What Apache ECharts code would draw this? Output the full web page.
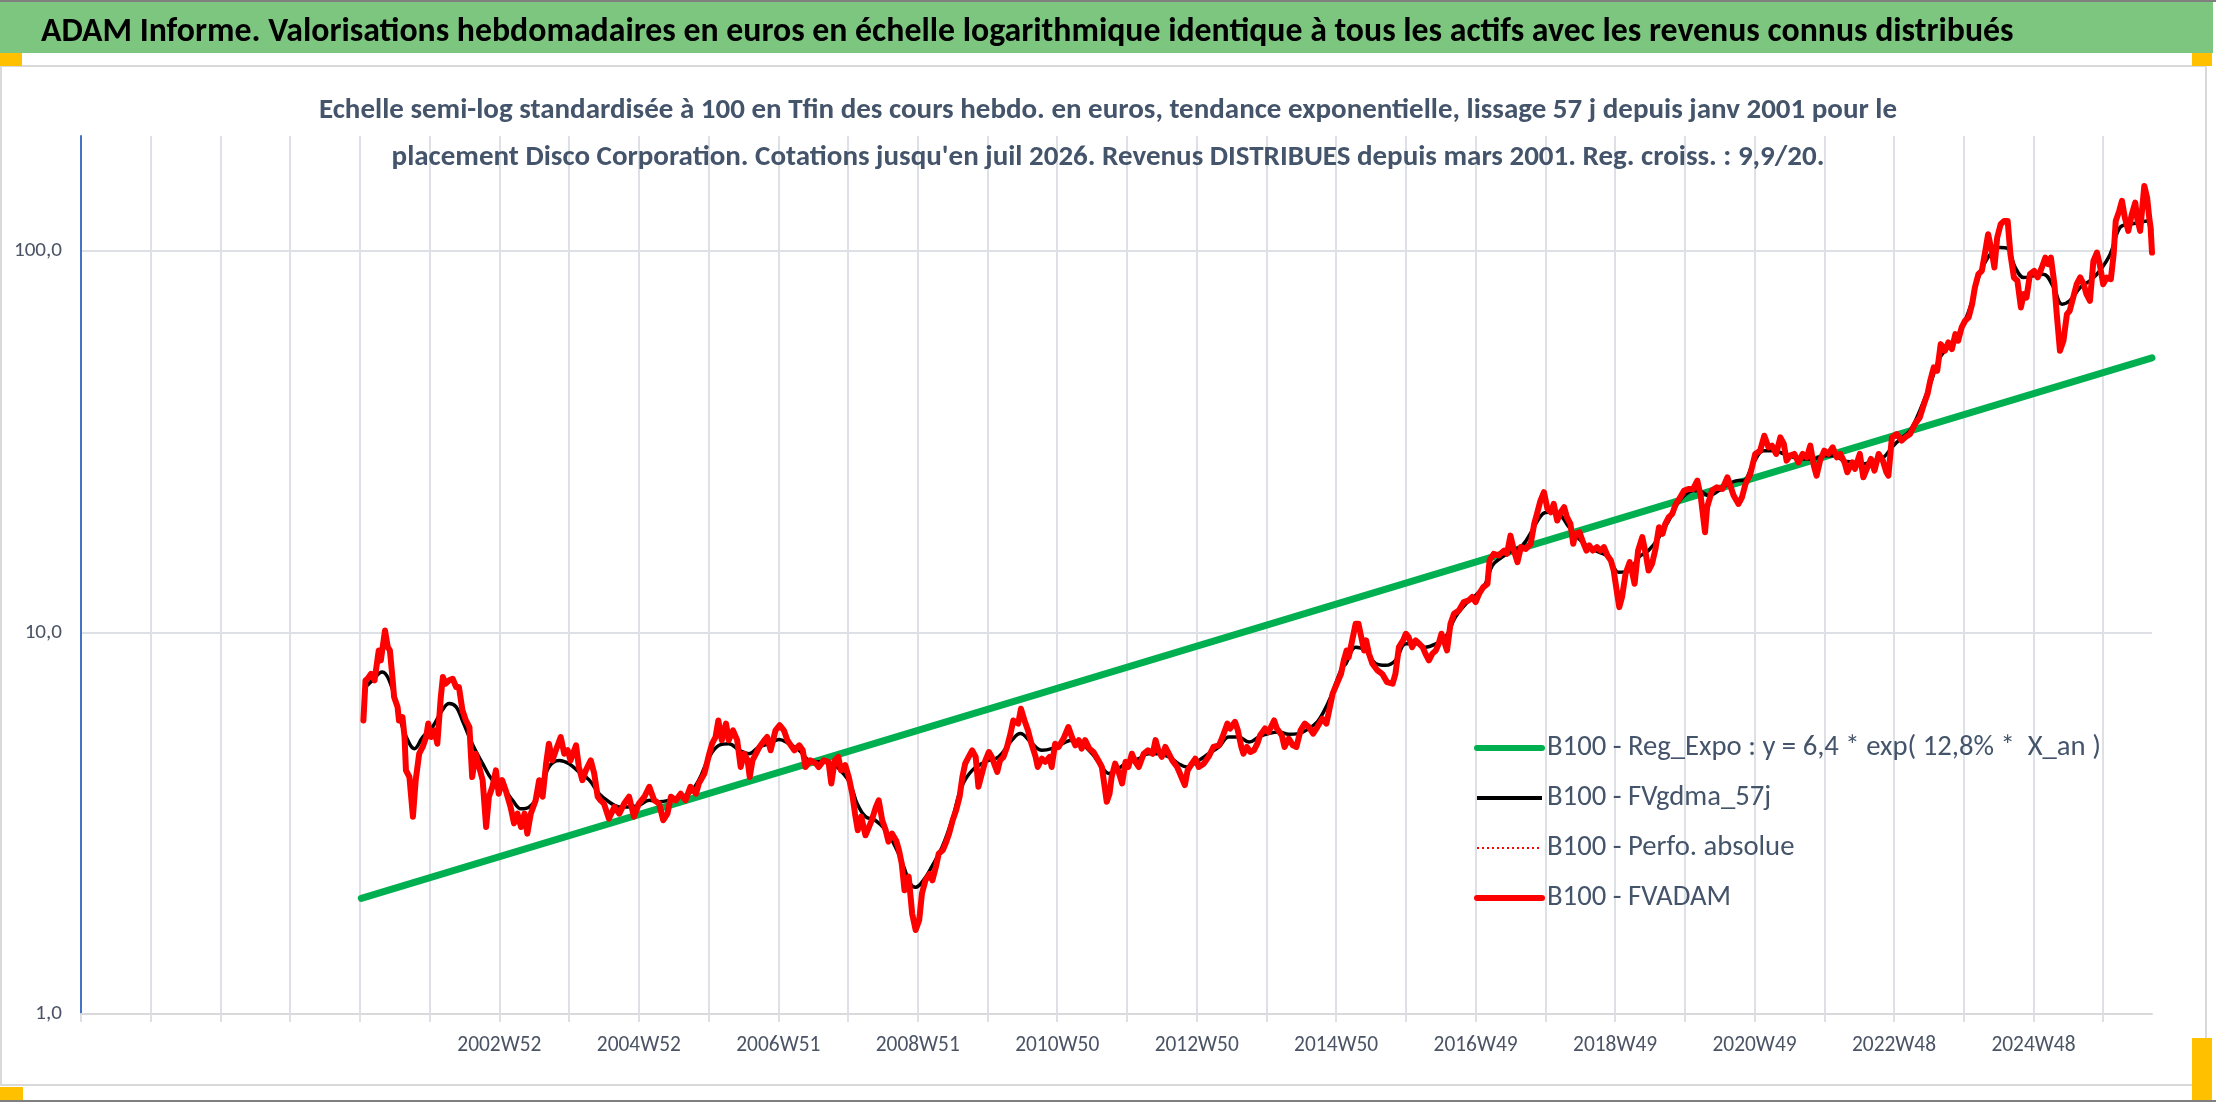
<!DOCTYPE html>
<html lang="fr">
<head>
<meta charset="UTF-8">
<title>ADAM Informe - Disco Corporation</title>
<style>
    html, body { margin: 0; padding: 0; background: #fff; }
    #main { width: 2216px; height: 1102px; }
</style>
</head>
<body>
<div id="main"></div>
<script src="https://cdn.jsdelivr.net/npm/echarts@6/dist/echarts.min.js"></script>
<script>
    const myChart = echarts.init(document.getElementById('main'));

    // textes
    const bannerText = 'ADAM Informe. Valorisations hebdomadaires en euros en échelle logarithmique identique à tous les actifs avec les revenus connus distribués';
    const subLines = [
        "Echelle semi-log standardisée à 100 en Tfin des cours hebdo. en euros, tendance exponentielle, lissage 57 j depuis janv 2001 pour le",
        "placement Disco Corporation. Cotations jusqu'en juil 2026. Revenus DISTRIBUES depuis mars 2001. Reg. croiss. : 9,9/20."
    ];
    const nameReg = 'B100 - Reg_Expo : y = 6,4 * exp( 12,8% *  X_an )';
    const nameGdma = 'B100 - FVgdma_57j';
    const namePerfo = 'B100 - Perfo. absolue';
    const nameAdam = 'B100 - FVADAM';

    // axe x : une graduation par an, étiquette une année sur deux
    const tickYears = [2003, 2005, 2007, 2009, 2011, 2013, 2015, 2017, 2019, 2021, 2023, 2025];
    const tickLabels = ['2002W52', '2004W52', '2006W51', '2008W51', '2010W50', '2012W50',
        '2014W50', '2016W49', '2018W49', '2020W49', '2022W48', '2024W48'];

    // tendance exponentielle (droite en semi-log) : début et fin
    const regExpo = [[2001.02, 2.01], [2026.70, 52.4]];

    // série absente du tracé, seulement dans la légende
    const perfoAbsolue = [];

    // FVADAM (rouge), base 100
    const fvadam = [
        [2001.05,5.88],[2001.08,7.49],[2001.11,7.56],[2001.16,7.79],[2001.21,7.49],[2001.23,7.95],[2001.27,8.97],[2001.30,8.45],[2001.36,10.12],[2001.40,9.15],
        [2001.43,8.97],[2001.47,7.49],[2001.49,6.77],[2001.54,6.38],[2001.56,5.88],[2001.61,6.00],[2001.64,5.32],[2001.66,4.35],[2001.71,4.18],[2001.76,3.29],
        [2001.80,4.10],[2001.85,4.81],[2001.90,5.01],[2001.95,5.32],[2001.98,5.77],[2002.02,5.32],[2002.07,5.54],[2002.11,5.11],[2002.16,6.77],[2002.19,7.64],
        [2002.23,7.34],[2002.28,7.49],[2002.33,7.56],[2002.38,7.19],[2002.42,7.19],[2002.47,6.25],[2002.52,5.88],[2002.57,5.65],[2002.61,4.18],[2002.66,4.81],
        [2002.71,4.44],[2002.76,4.10],[2002.81,3.09],[2002.85,3.71],[2002.90,3.94],[2002.95,4.35],[2002.99,3.78],[2003.04,4.10],[2003.09,3.86],[2003.16,3.49],
        [2003.21,3.16],[2003.26,3.35],[2003.31,3.09],[2003.36,3.35],[2003.40,2.97],[2003.45,3.35],[2003.52,3.63],[2003.57,4.10],[2003.62,3.71],[2003.67,4.53],
        [2003.71,5.11],[2003.76,4.62],[2003.81,4.91],[2003.88,5.32],[2003.93,4.81],[2003.98,4.91],[2004.02,4.62],[2004.10,5.06],[2004.14,4.44],[2004.19,4.10],
        [2004.24,4.35],[2004.31,4.62],[2004.36,4.27],[2004.41,3.71],[2004.45,3.63],[2004.50,3.56],[2004.57,3.25],[2004.65,3.49],[2004.72,3.35],[2004.79,3.56],
        [2004.86,3.71],[2004.93,3.29],[2005.00,3.56],[2005.08,3.71],[2005.15,3.94],[2005.22,3.63],[2005.29,3.56],[2005.35,3.22],[2005.41,3.35],[2005.46,3.71],
        [2005.53,3.63],[2005.60,3.78],[2005.67,3.63],[2005.74,3.94],[2005.82,3.78],[2005.86,4.02],[2005.94,4.27],[2006.01,4.81],[2006.05,5.11],[2006.10,5.32],
        [2006.14,5.88],[2006.19,5.22],[2006.25,5.77],[2006.29,5.22],[2006.35,5.54],[2006.41,5.22],[2006.46,4.44],[2006.51,4.81],[2006.56,4.62],[2006.59,4.18],
        [2006.63,4.62],[2006.68,4.81],[2006.73,5.01],[2006.80,5.22],[2006.84,5.32],[2006.89,4.91],[2006.96,5.54],[2007.02,5.71],[2007.08,5.54],[2007.13,5.22],
        [2007.18,5.06],[2007.23,4.91],[2007.30,5.06],[2007.35,4.91],[2007.39,4.44],[2007.46,4.62],[2007.54,4.53],
        [2007.58,4.44],[2007.65,4.62],[2007.72,4.58],[2007.76,4.02],[2007.81,4.62],[2007.86,4.72],[2007.90,4.35],[2007.96,4.49],[2008.01,4.18],[2008.06,3.78],
        [2008.10,3.35],[2008.14,3.03],[2008.19,3.29],[2008.25,2.94],[2008.30,3.09],[2008.34,3.22],[2008.40,3.49],[2008.44,3.63],[2008.49,3.22],[2008.54,3.03],
        [2008.58,2.83],[2008.63,2.97],[2008.69,2.85],[2008.73,2.69],[2008.77,2.48],[2008.81,2.11],[2008.87,2.29],[2008.92,1.83],[2008.97,1.66],[2009.02,1.76],
        [2009.06,2.07],[2009.11,2.24],[2009.17,2.33],[2009.21,2.24],[2009.26,2.43],[2009.30,2.63],[2009.36,2.69],[2009.40,2.80],[2009.45,2.97],[2009.50,3.22],
        [2009.55,3.42],[2009.60,3.71],[2009.64,4.18],[2009.68,4.53],[2009.73,4.72],[2009.78,4.91],[2009.83,4.72],[2009.87,3.94],[2009.92,4.27],[2009.97,4.62],
        [2010.02,4.86],[2010.06,4.72],[2010.14,4.31],[2010.18,4.62],[2010.23,4.72],[2010.28,5.01],[2010.33,5.43],[2010.37,5.88],[2010.44,5.77],[2010.48,6.31],
        [2010.53,5.88],[2010.58,5.54],[2010.63,5.11],[2010.69,4.72],[2010.72,4.44],[2010.78,4.67],[2010.83,4.58],[2010.89,4.72],[2010.92,4.44],[2010.97,5.11],
        [2011.02,5.01],[2011.09,5.27],[2011.16,5.65],[2011.21,5.32],[2011.26,5.06],[2011.31,5.22],[2011.35,4.96],[2011.40,5.22],[2011.46,4.96],[2011.52,4.86],
        [2011.59,4.62],[2011.64,4.44],[2011.68,3.94],[2011.71,3.60],[2011.75,3.78],[2011.78,4.18],[2011.83,4.53],[2011.88,4.31],[2011.93,4.02],[2011.98,4.58],
        [2012.02,4.44],[2012.07,4.81],[2012.12,4.58],[2012.17,4.44],[2012.24,4.81],[2012.30,4.91],[2012.37,4.81],[2012.41,5.22],[2012.45,4.91],[2012.50,4.72],
        [2012.55,5.01],[2012.60,4.81],[2012.65,4.62],[2012.72,4.44],[2012.76,4.27],[2012.83,3.98],[2012.87,4.35],[2012.93,4.53],[2012.98,4.67],
        [2013.03,4.44],[2013.10,4.53],[2013.17,4.72],[2013.24,5.01],[2013.32,5.06],[2013.37,5.32],[2013.44,5.77],[2013.48,5.60],[2013.55,5.83],[2013.59,5.54],
        [2013.64,5.01],[2013.67,4.81],[2013.72,5.01],[2013.77,4.86],[2013.82,4.91],[2013.87,5.11],[2013.91,5.38],[2013.98,5.60],[2014.03,5.48],[2014.11,5.88],
        [2014.15,5.60],[2014.22,5.38],[2014.26,5.01],[2014.32,5.27],[2014.38,5.06],[2014.43,5.01],[2014.49,5.54],[2014.55,5.77],[2014.61,5.65],[2014.67,5.43],
        [2014.73,5.65],[2014.80,5.94],[2014.86,5.77],[2014.90,6.25],
        [2014.95,6.91],[2015.02,7.41],[2015.07,7.79],[2015.11,8.45],[2015.15,8.97],[2015.18,8.62],[2015.23,9.53],[2015.28,10.54],[2015.32,10.54],[2015.35,9.92],
        [2015.40,8.97],[2015.43,9.53],[2015.47,8.80],[2015.52,8.28],[2015.59,7.96],[2015.66,7.79],[2015.73,7.41],[2015.81,7.34],[2015.85,7.79],[2015.90,9.15],
        [2015.96,9.53],[2016.00,9.92],[2016.04,9.72],[2016.09,9.15],[2016.14,9.53],[2016.19,9.34],[2016.24,9.15],[2016.28,8.80],[2016.33,8.45],[2016.38,8.80],
        [2016.43,8.97],[2016.47,9.34],[2016.51,9.92],[2016.56,9.34],[2016.59,8.97],[2016.64,10.54],[2016.69,11.19],[2016.76,11.42],[2016.83,12.01],[2016.90,12.13],
        [2016.95,12.38],[2017.00,12.01],[2017.05,12.63],[2017.11,13.14],[2017.17,13.41],[2017.20,15.44],[2017.26,16.07],[2017.33,15.91],[2017.41,16.39],[2017.45,16.07],
        [2017.50,17.94],[2017.55,16.39],[2017.60,15.28],[2017.65,16.73],[2017.72,16.56],[2017.79,17.07],[2017.84,19.25],[2017.88,20.45],[2017.93,22.16],[2017.98,23.31],
        [2018.03,21.08],[2018.08,20.65],[2018.12,21.72],[2018.17,19.64],[2018.22,20.65],[2018.27,21.29],[2018.31,20.04],[2018.36,19.25],[2018.40,17.07],[2018.43,18.13],
        [2018.49,18.31],[2018.54,17.24],[2018.59,16.39],[2018.63,16.90],[2018.68,16.39],[2018.74,16.73],[2018.79,16.39],[2018.84,16.73],[2018.89,15.91],[2018.94,15.44],
        [2018.98,14.53],[2019.03,12.63],[2019.06,11.65],[2019.10,12.38],[2019.15,14.24],[2019.21,15.28],[2019.25,14.24],[2019.28,13.41],[2019.33,16.39],[2019.39,17.77],
        [2019.44,16.07],[2019.48,14.53],[2019.53,15.13],[2019.58,16.56],[2019.63,18.87],[2019.68,18.13],[2019.72,19.25],[2019.77,20.04],[2019.82,20.45],[2019.87,21.72],
        [2019.92,22.38],[2019.99,23.54],[2020.06,23.77],[2020.12,23.77],[2020.18,25.00],[2020.23,22.61],[2020.29,18.31],[2020.32,21.29],[2020.39,23.54],[2020.46,24.01],
        [2020.54,23.77],[2020.61,25.50],[2020.66,24.01],[2020.70,22.84],[2020.77,21.72],[2020.82,22.61],
        [2020.87,24.50],[2020.94,26.03],[2021.01,29.36],[2021.08,29.95],[2021.14,32.78],[2021.20,30.56],[2021.25,30.86],[2021.31,29.36],[2021.37,32.45],[2021.42,31.18],
        [2021.46,28.20],[2021.51,29.06],[2021.57,29.36],[2021.63,27.92],[2021.69,29.36],[2021.75,28.77],[2021.80,30.86],[2021.85,27.37],[2021.89,25.76],[2021.94,28.20],
        [2022.00,29.95],[2022.06,29.36],[2022.12,30.56],[2022.18,28.77],[2022.23,29.36],[2022.29,27.92],[2022.33,26.29],[2022.40,27.92],[2022.44,26.83],[2022.51,29.36],
        [2022.56,25.50],[2022.61,26.83],[2022.67,28.49],[2022.72,26.55],[2022.78,29.36],[2022.84,28.20],[2022.89,26.29],[2022.92,25.76],[2022.97,32.45],[2023.04,33.11],
        [2023.11,31.81],[2023.16,32.45],[2023.23,33.11],[2023.30,35.17],[2023.37,36.61],[2023.43,39.68],[2023.48,42.15],[2023.52,45.67],[2023.57,49.50],[2023.62,48.52],
        [2023.67,56.97],[2023.73,54.72],[2023.78,57.54],[2023.83,55.28],[2023.88,60.52],[2023.92,58.13],[2023.97,63.01],[2024.02,65.59],[2024.07,66.92],[2024.12,72.51],
        [2024.16,80.17],[2024.21,86.89],[2024.26,88.65],[2024.31,100.0],[2024.35,110.6],[2024.40,100.0],[2024.44,90.45],[2024.48,108.4],[2024.53,117.4],[2024.58,119.8],
        [2024.63,119.8],[2024.67,98.0],[2024.72,85.17],[2024.77,83.48],[2024.82,71.07],[2024.86,77.02],[2024.90,75.48],[2024.95,86.89],[2025.01,88.65],[2025.06,85.17],
        [2025.12,90.45],[2025.17,96.0],[2025.21,92.28],[2025.25,96.0],[2025.30,81.79],[2025.33,69.66],[2025.38,54.72],[2025.43,58.13],[2025.48,68.28],[2025.52,69.66],
        [2025.57,75.48],[2025.62,81.79],[2025.67,85.17],[2025.72,81.79],[2025.76,77.02],[2025.81,73.98],[2025.86,94.15],[2025.91,98.99],[2025.95,92.28],[2026.00,81.79],
        [2026.05,85.17],[2026.11,84.32],[2026.15,98.0],[2026.18,119.8],[2026.23,127.3],[2026.27,135.2],[2026.31,122.3],[2026.36,112.8],[2026.41,124.7],[2026.46,133.8],
        [2026.49,121.0],[2026.53,112.8],[2026.57,135.2],[2026.59,148.0],[2026.63,137.9],[2026.66,122.3],[2026.68,115.1],[2026.70,98.99]
    ];

    // FVgdma 57 j (noir), lissage
    const fvgdma57 = [
        [2001.08,7.19],[2001.18,7.49],[2001.32,7.87],[2001.42,7.49],[2001.52,6.51],[2001.61,5.65],[2001.71,5.11],[2001.78,4.96],[2001.90,5.32],[2002.04,5.65],
        [2002.18,6.25],[2002.28,6.51],[2002.38,6.38],[2002.47,5.88],[2002.61,5.11],[2002.76,4.53],[2002.90,4.10],[2003.04,3.94],[2003.19,3.63],[2003.31,3.45],
        [2003.43,3.49],[2003.57,3.78],[2003.71,4.44],[2003.86,4.62],[2004.00,4.53],[2004.14,4.31],[2004.29,4.10],[2004.43,3.78],[2004.57,3.60],[2004.72,3.49],
        [2004.86,3.49],[2005.00,3.52],[2005.15,3.63],[2005.29,3.60],[2005.43,3.63],[2005.58,3.71],[2005.72,3.78],[2005.86,4.10],[2006.01,4.72],[2006.15,5.06],
        [2006.29,5.11],[2006.44,4.91],[2006.58,4.81],[2006.72,5.01],[2006.87,5.11],[2007.01,5.24],[2007.15,5.11],[2007.30,4.91],[2007.44,4.62],
        [2007.58,4.58],[2007.77,4.53],[2007.91,4.31],[2008.03,4.02],[2008.13,3.56],[2008.25,3.29],[2008.39,3.22],[2008.54,3.03],[2008.68,2.74],[2008.80,2.43],
        [2008.89,2.20],[2008.97,2.15],[2009.08,2.24],[2009.20,2.43],[2009.35,2.74],[2009.49,3.22],[2009.63,3.94],[2009.78,4.35],[2009.97,4.58],[2010.16,4.72],
        [2010.35,5.22],[2010.47,5.43],[2010.64,5.11],[2010.78,4.91],[2010.92,4.96],[2011.07,5.11],[2011.21,5.22],[2011.35,5.11],[2011.50,4.81],[2011.64,4.44],
        [2011.74,4.27],[2011.88,4.40],[2012.02,4.58],[2012.17,4.67],[2012.31,4.81],[2012.45,4.81],[2012.60,4.72],[2012.74,4.53],[2012.86,4.44],
        [2013.03,4.62],[2013.17,4.81],[2013.32,5.01],[2013.46,5.32],[2013.60,5.32],[2013.75,5.16],[2013.89,5.32],[2014.03,5.43],[2014.18,5.48],[2014.32,5.41],
        [2014.46,5.43],[2014.61,5.60],[2014.73,5.83],[2014.82,6.19],[2014.92,6.77],[2015.01,7.49],[2015.09,8.11],
        [2015.14,8.28],[2015.28,9.15],[2015.42,8.97],[2015.57,8.28],[2015.71,8.20],[2015.85,8.45],[2016.00,9.34],[2016.14,9.34],[2016.28,9.15],[2016.43,9.34],
        [2016.57,9.72],[2016.71,10.97],[2016.86,11.89],[2017.00,12.50],[2017.14,13.41],[2017.24,14.98],[2017.38,15.75],[2017.53,16.39],[2017.67,16.90],[2017.81,18.49],
        [2017.96,20.45],[2018.05,20.65],[2018.19,20.45],[2018.34,18.87],[2018.48,17.59],[2018.62,16.73],[2018.77,16.23],[2018.91,15.75],[2019.05,14.38],[2019.20,14.53],
        [2019.34,15.75],[2019.48,16.39],[2019.63,17.77],[2019.77,19.64],[2019.91,21.94],[2020.06,23.31],[2020.20,23.54],[2020.34,22.84],[2020.49,23.54],[2020.63,24.50],
        [2020.77,25.00],[2020.84,25.00],[2020.99,27.92],[2021.13,29.95],[2021.27,29.95],[2021.42,29.36],[2021.56,28.77],[2021.70,28.49],[2021.85,28.49],[2021.99,29.06],
        [2022.13,29.06],[2022.28,28.20],[2022.42,27.92],[2022.56,27.64],[2022.71,28.20],[2022.85,28.77],[2022.97,30.56],[2023.09,32.14],[2023.23,33.80],[2023.37,38.13],
        [2023.52,44.77],[2023.66,52.58],[2023.80,56.40],[2023.95,61.75],[2024.09,71.07],[2024.23,86.89],[2024.38,98.0],[2024.52,102.0],[2024.62,101.6],[2024.74,90.45],
        [2024.86,85.17],[2025.00,86.0],[2025.14,86.89],[2025.29,80.17],[2025.41,72.51],[2025.52,73.98],[2025.67,80.17],[2025.81,83.48],[2025.95,88.65],[2026.10,98.0],
        [2026.24,115.1],[2026.38,117.4],[2026.53,118.6],[2026.62,119.8],[2026.70,112.8]
    ];

    /* police : taille ajustée pour retrouver la largeur des textes du modèle */
    const FONT = 'Carlito, Lato, "Open Sans", sans-serif';
    const ctx = document.createElement('canvas').getContext('2d');
    function fitSize(text, weight, width) {
        ctx.font = weight + ' 100px ' + FONT;
        return Math.round(1000 * width / ctx.measureText(text).width) / 10;
    }
    const bannerSize = fitSize(bannerText, 'bold', 1973);
    const subSize = fitSize(subLines[0], 'bold', 1576);
    const legendSize = fitSize(nameReg, 'normal', 554);
    const xLabelSize = fitSize(tickLabels[0], 'normal', 84);
    const yLabelSize = fitSize('100,0', 'normal', 48);

    const labelOf = {};
    tickYears.forEach((y, i) => { labelOf[y] = tickLabels[i]; });

    const gridColor = '#DDE1E6';
    const textColor = '#44546A';
    const subStyle = { fontSize: subSize, fontWeight: 'bold', color: textColor, lineHeight: 40, fontFamily: FONT };

    // légende : trait seul, épaisseur comme dans le modèle
    const hideSymbol = { opacity: 0 };
    const legendItems = [
        { name: nameReg, itemStyle: hideSymbol, lineStyle: { width: 6, color: '#00B050' } },
        { name: nameGdma, itemStyle: hideSymbol, lineStyle: { width: 4, color: '#000000' } },
        { name: namePerfo, itemStyle: hideSymbol, lineStyle: { width: 2, color: '#FF0000', type: [2, 3] } },
        { name: nameAdam, itemStyle: hideSymbol, lineStyle: { width: 6, color: '#FF0000' } }
    ];

    const option = {
        backgroundColor: '#fff',
        animation: false,
        textStyle: { fontFamily: FONT },
        title: [
            {
                text: bannerText, left: 36, top: 10,
                textStyle: { fontSize: bannerSize, fontWeight: 'bold', color: '#000', lineHeight: 36, fontFamily: FONT }
            },
            { text: subLines[0], left: 'center', top: 86, textStyle: subStyle },
            { text: subLines[1], left: 'center', top: 133, textStyle: subStyle }
        ],
        graphic: {
            elements: [
                { type: 'rect', silent: true, shape: { x: 0, y: 0, width: 2216, height: 2 }, style: { fill: '#7F7F7F' } },
                { type: 'rect', silent: true, shape: { x: 0, y: 2, width: 2213, height: 51 }, style: { fill: '#7DC67F' } },
                { type: 'rect', silent: true, shape: { x: 1, y: 66, width: 2205, height: 1019 }, style: { fill: 'none', stroke: '#D9D9D9', lineWidth: 2 } },
                { type: 'rect', silent: true, shape: { x: 0, y: 53, width: 22, height: 13 }, style: { fill: '#FFC000' } },
                { type: 'rect', silent: true, shape: { x: 2192, y: 53, width: 20, height: 13 }, style: { fill: '#FFC000' } },
                { type: 'rect', silent: true, shape: { x: 2192, y: 1038, width: 20, height: 62 }, style: { fill: '#FFC000' } },
                { type: 'rect', silent: true, shape: { x: 0, y: 1087, width: 23, height: 13 }, style: { fill: '#FFC000' } },
                { type: 'rect', silent: true, shape: { x: 0, y: 1100, width: 2216, height: 2 }, style: { fill: '#7F7F7F' } }
            ]
        },
        grid: { left: 81, right: 64, top: 136, bottom: 88, containLabel: false },
        legend: {
            orient: 'vertical', left: 1469, top: 728,
            itemWidth: 65, itemHeight: 30, itemGap: 20,
            textStyle: { fontSize: legendSize, color: textColor, lineHeight: 30, fontFamily: FONT },
            data: legendItems
        },
        xAxis: {
            type: 'value', min: 1997, max: 2026.7, interval: 1,
            axisLine: { onZero: false, lineStyle: { color: '#D9D9D9', width: 2 } },
            axisTick: { show: true, length: 8, lineStyle: { color: gridColor, width: 2 } },
            splitLine: { show: true, showMaxLine: false, lineStyle: { color: gridColor, width: 2 } },
            axisLabel: {
                margin: 21, fontSize: xLabelSize, color: '#4A5465', fontFamily: FONT,
                showMaxLabel: false,
                formatter: v => labelOf[Math.round(v)] || ''
            }
        },
        yAxis: {
            type: 'log', logBase: 10, min: 1, max: 200,
            axisLine: { show: true, onZero: false, lineStyle: { color: '#4472C4', width: 2 } },
            axisTick: { show: false },
            splitLine: { show: true, showMaxLine: false, lineStyle: { color: gridColor, width: 2 } },
            axisLabel: {
                margin: 19, fontSize: yLabelSize, color: '#4A5465', fontFamily: FONT,
                showMaxLabel: false,
                formatter: v => (Math.abs(v - 1) < 1e-6 || Math.abs(v - 10) < 1e-6 || Math.abs(v - 100) < 1e-6)
                    ? v.toFixed(1).replace('.', ',') : ''
            }
        },
        series: [
            {
                name: nameReg, type: 'line', data: regExpo, symbol: 'none', color: '#00B050',
                lineStyle: { color: '#00B050', width: 7, cap: 'round' }, z: 2
            },
            {
                name: nameGdma, type: 'line', data: fvgdma57, symbol: 'none', smooth: 0.4, color: '#000000',
                lineStyle: { color: '#000000', width: 3.5, join: 'round' }, z: 3
            },
            {
                name: namePerfo, type: 'line', data: perfoAbsolue, symbol: 'none', color: '#FF0000',
                lineStyle: { color: '#FF0000', width: 2, type: 'dotted' }, z: 3
            },
            {
                name: nameAdam, type: 'line', data: fvadam, symbol: 'none', color: '#FF0000',
                lineStyle: { color: '#FF0000', width: 6, join: 'round', cap: 'round' }, z: 4
            }
        ]
    };

    myChart.setOption(option);
</script>
</body>
</html>
